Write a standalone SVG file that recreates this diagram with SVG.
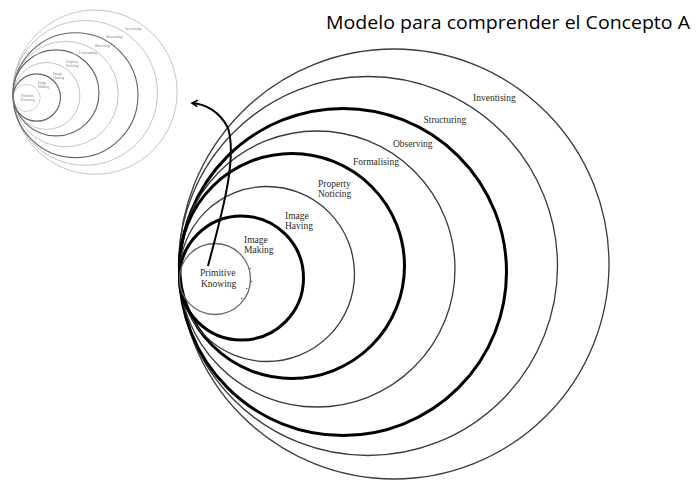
<svg xmlns="http://www.w3.org/2000/svg" xmlns:xlink="http://www.w3.org/1999/xlink" width="697" height="481" viewBox="0 0 697 481">
<style>
.thin{fill:none;stroke:#3a3a3a;stroke-width:1.3}
.thick{fill:none;stroke:#000;stroke-width:3}
.lbl{font-family:"Liberation Serif","Times New Roman",serif;font-size:9.5px;fill:#2a2a2a}
.title{font-family:"Open Sans","Noto Sans",sans-serif;font-size:17.5px;fill:#000}
.conn{fill:none;stroke:#000;stroke-width:2}
</style>
<defs>
<marker id="arr" viewBox="0 0 10 10" refX="8" refY="5" markerWidth="4" markerHeight="4" orient="auto" markerUnits="strokeWidth">
<path d="M1,1 L8,5 L1,9" fill="none" stroke="#000" stroke-width="2"/>
</marker>
<filter id="soft" x="-5%" y="-5%" width="110%" height="110%"><feGaussianBlur stdDeviation="0.45"/></filter>
</defs>
<rect width="697" height="481" fill="#fff"/>
<g id="rings">
<g id="n-inventising"><circle class="thin" cx="394" cy="264" r="215"/><text class="lbl" x="473" y="100.5">Inventising</text></g>
<g id="n-structuring"><circle class="thin" cx="368" cy="266" r="189.5"/><text class="lbl" x="423.5" y="123">Structuring</text></g>
<g id="n-observing"><circle class="thick" cx="343" cy="272" r="163.5"/><text class="lbl" x="393" y="147">Observing</text></g>
<g id="n-formalising"><circle class="thin" cx="317" cy="269" r="138"/><text class="lbl" x="353" y="164.5">Formalising</text></g>
<g id="n-property"><circle class="thick" cx="292" cy="266" r="112.5"/><text class="lbl" x="318" y="187">Property</text><text class="lbl" x="318" y="197">Noticing</text></g>
<g id="n-imagehaving"><circle class="thin" cx="267" cy="274" r="87.5"/><text class="lbl" x="285" y="218.5">Image</text><text class="lbl" x="285" y="228.5">Having</text></g>
<g id="n-imagemaking"><circle class="thick" cx="241.5" cy="278" r="62"/><text class="lbl" x="244" y="243">Image</text><text class="lbl" x="244" y="253">Making</text></g>
<g id="n-primitive"><circle class="thin" cx="215" cy="279" r="35.5" style="stroke:#666"/><text class="lbl" x="200" y="276">Primitive</text><text class="lbl" x="201" y="286.5">Knowing</text></g>
</g>
<g id="ticks" fill="#555">
<circle cx="250" cy="268.5" r="0.8"/><circle cx="251.5" cy="281.5" r="0.7"/><circle cx="246.7" cy="288.5" r="0.7"/><circle cx="241.7" cy="298.5" r="0.8"/><circle cx="233.5" cy="285" r="0.6"/>
</g>
<g id="mini" opacity="0.6" filter="url(#soft)">
<use xlink:href="#rings" href="#rings" transform="translate(-55.5,-8.7) scale(0.382)"/>
</g>
<g id="connectors">
<path class="conn" d="M208,266 C220,220 238,160 228,128 C220,112 206,104 192,103" marker-end="url(#arr)"/>
</g>
<text id="title" class="title" x="326" y="29.3" textLength="364" lengthAdjust="spacingAndGlyphs">Modelo para comprender el Concepto A</text>
</svg>
